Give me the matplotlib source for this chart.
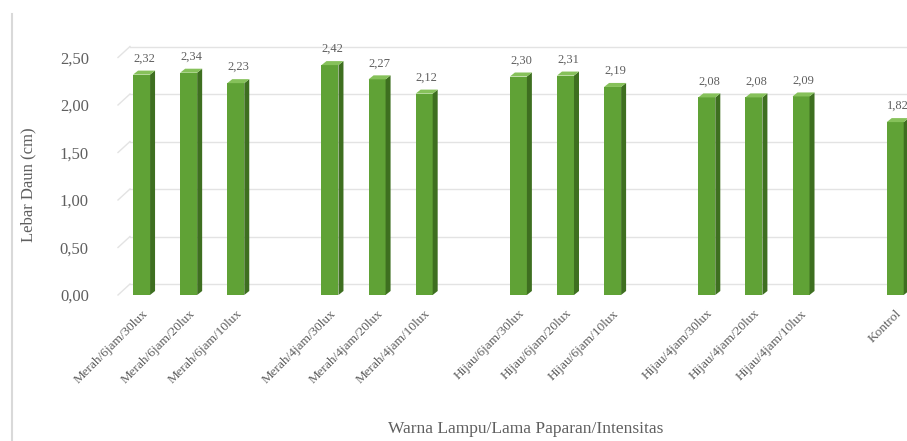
import numpy as np
import matplotlib
matplotlib.use("Agg")
from matplotlib import pyplot as plt
from matplotlib.patches import Polygon
from matplotlib.lines import Line2D

plt.rcParams['font.family'] = ['Liberation Serif', 'DejaVu Serif']

labels = ['Merah/6jam/30lux', 'Merah/6jam/20lux', 'Merah/6jam/10lux',
          'Merah/4jam/30lux', 'Merah/4jam/20lux', 'Merah/4jam/10lux',
          'Hijau/6jam/30lux', 'Hijau/6jam/20lux', 'Hijau/6jam/10lux',
          'Hijau/4jam/30lux', 'Hijau/4jam/20lux', 'Hijau/4jam/10lux',
          'Kontrol']
values = [2.32, 2.34, 2.23, 2.42, 2.27, 2.12, 2.30, 2.31, 2.19, 2.08, 2.08, 2.09, 1.82]
yticks = [0, 0.5, 1.0, 1.5, 2.0, 2.5]

# groups of three with an empty slot between
pos = np.arange(len(values)) + np.arange(len(values)) // 3

txt = '#5f5f5f'
front_c = '#60a236'
side_c = '#3e6f20'
top_c = '#86c15a'
grid_c = '#e3e3e3'

W, H = 907, 441
fig = plt.figure(figsize=(W / 100, H / 100), dpi=100)
ax = fig.add_axes([118 / W, 1 - 295 / H, (W - 118) / W, (295 - 57.5) / H])
ax.set_xlim(-0.5, 16.25)
ax.set_ylim(0, 2.5)
for s in ax.spines.values():
    s.set_visible(False)

# px -> data scale
bb = ax.get_window_extent()
sx = 16.75 / bb.width
sy = 2.5 / bb.height
dx, dy = 12 * sx, 11 * sy    # back wall offset
bdx, bdy = 5 * sx, 4 * sy    # bar depth
bw = 17 * sx

# back wall gridlines with diagonal to the front
for t in yticks:
    ax.add_line(Line2D([-0.5, -0.5 + dx], [t, t + dy], color=grid_c, lw=1, clip_on=False, zorder=0))
    ax.add_line(Line2D([-0.5 + dx, 16.6], [t + dy, t + dy], color=grid_c, lw=1, clip_on=False, zorder=0))

for x, v in zip(pos, values):
    l, r = x - bw / 2, x + bw / 2
    ax.add_patch(Polygon([[l, 0], [r, 0], [r, v], [l, v]], closed=True, fc=front_c, ec='none', zorder=3, clip_on=False))
    ax.add_patch(Polygon([[r, 0], [r + bdx, bdy], [r + bdx, v + bdy], [r, v]], closed=True, fc=side_c, ec='none', zorder=3, clip_on=False))
    ax.add_patch(Polygon([[l, v], [r, v], [r + bdx, v + bdy], [l + bdx, v + bdy]], closed=True, fc=top_c, ec='none', zorder=3, clip_on=False))
    ax.text(x + bdx / 2, v + bdy + 6 * sy, ('%.2f' % v).replace('.', ','), ha='center', va='bottom',
            fontsize=9, color=txt, zorder=4)

ax.set_yticks(yticks)
ax.set_yticklabels([('%.2f' % t).replace('.', ',') for t in yticks], fontsize=12, color=txt)
ax.tick_params(axis='y', length=0, pad=21)
ax.set_xticks(pos)
ax.set_xticklabels(labels, rotation=45, ha='right', va='top', rotation_mode='anchor', fontsize=9.5, color=txt)
ax.tick_params(axis='x', length=0, pad=9)

ax.set_ylabel('Lebar Daun (cm)', fontsize=12, color=txt)
ax.yaxis.set_label_coords(36 / W, 1 - 185 / H, transform=fig.transFigure)
fig.text(526 / W, 1 - 429 / H, 'Warna Lampu/Lama Paparan/Intensitas', ha='center', va='center',
         fontsize=12.5, color=txt)

# chart area border on the left
fig.add_artist(Line2D([12 / W, 12 / W], [0, 1 - 14 / H], transform=fig.transFigure, color='#d9d9d9', lw=1.5))

fig.savefig('out.png', dpi=100)
